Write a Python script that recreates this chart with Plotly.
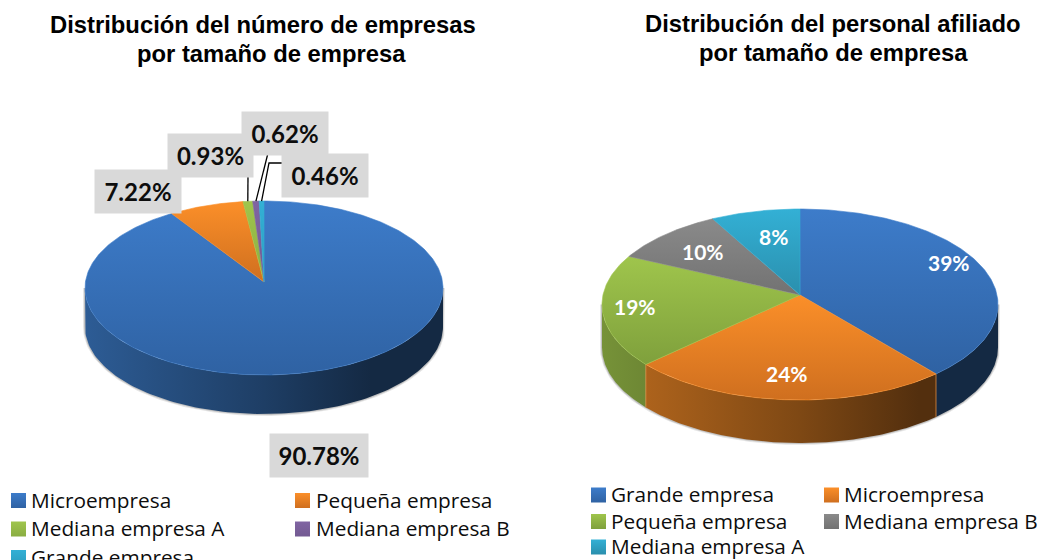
import numpy as np
import plotly.graph_objects as go

# ---- data ----
title_left_lines = ["Distribución del número de empresas", "por tamaño de empresa"]
title_right_lines = ["Distribución del personal afiliado", "por tamaño de empresa"]

left_names = ["Microempresa", "Pequeña empresa", "Mediana empresa A", "Mediana empresa B", "Grande empresa"]
left_values = [90.78, 7.22, 0.93, 0.62, 0.46]
left_labels = ["90.78%", "7.22%", "0.93%", "0.62%", "0.46%"]

right_names = ["Grande empresa", "Microempresa", "Pequeña empresa", "Mediana empresa B", "Mediana empresa A"]
right_values = [39, 24, 19, 10, 8]
right_labels = ["39%", "24%", "19%", "10%", "8%"]

# ---- styles ----
LEFT_COL = [("#3d7cca", "#2f62a3"), ("#fb8f29", "#cf6f1f"), ("#9fc54c", "#8aad42"),
            ("#8064a2", "#735a92"), ("#33b0d5", "#2c9dbf")]
RIGHT_COL = [("#3d7cca", "#2f62a3"), ("#fb8f29", "#cf6f1f"), ("#9fc54c", "#7fa03c"),
             ("#8a8a8a", "#727272"), ("#33b0d5", "#2a8fad")]
BODY = "Open Sans, Noto Sans, sans-serif"
LABEL = "Lato, Open Sans, sans-serif"
TITLE = "Liberation Sans, Arial, sans-serif"


def rgb(h):
    return np.array([int(h[i:i + 2], 16) for i in (1, 3, 5)], float)


def shade(h, f):
    r, g, b = rgb(h) * f
    return f"rgb({r:.0f},{g:.0f},{b:.0f})"


fig = go.Figure()


class Pie3D:
    def __init__(self, cx, cy, top, bottom, half_w, depth):
        self.cx, self.cy, self.depth = cx, cy, depth
        self.k = (bottom - top) / (bottom + top)
        self.A = top * (1 + self.k)
        self.B = half_w * np.sqrt(1 - self.k ** 2)
        self.half_w = half_w
        self.top, self.bottom = cy - top, cy + bottom

    def rim(self, t):
        X, Y = np.sin(t), np.cos(t)
        w = 1 + self.k * Y
        return self.cx + self.B * X / w, self.cy - self.A * Y / w

    def draw(self, values, cols):
        vals = np.array(values, float)
        edges = np.concatenate([[0], np.cumsum(vals) / vals.sum() * 2 * np.pi])
        tr = np.arccos(-self.k)  # right silhouette
        tl = 2 * np.pi - tr  # left silhouette
        x0, x1 = self.cx - self.half_w, self.cx + self.half_w
        # soft shadow along the lower rim
        t = np.linspace(tr, tl, 200)
        sx, sy = self.rim(t)
        for w, op in [(4, .10), (2, .16)]:
            fig.add_trace(go.Scatter(
                x=np.concatenate([sx[:1], sx, sx[-1:]]),
                y=np.concatenate([sy[:1], sy + self.depth, sy[-1:]]),
                mode="lines", line=dict(width=w, color=f"rgba(0,0,0,{op})"), hoverinfo="skip"))
        for i in range(len(vals)):
            a, b = max(edges[i], tr), min(edges[i + 1], tl)
            if b <= a:
                continue
            t = np.linspace(a, b, 120)
            x, y = self.rim(t)
            px = np.concatenate([x, x[::-1]])
            py = np.concatenate([y, y[::-1] + self.depth])
            base = cols[i][0]
            stops = [(0, .74), (.5, .5), (.8, .33), (1, .33)]
            fig.add_trace(go.Scatter(
                x=px, y=py, mode="lines", line=dict(width=0), fill="toself",
                fillgradient=dict(type="horizontal", start=x0, stop=x1,
                                  colorscale=[[s, shade(base, f)] for s, f in stops]),
                hoverinfo="skip"))
        # light vertical edges between the visible side walls
        for e in edges[1:-1]:
            if tr < e < tl:
                ex, ey = self.rim(e)
                fig.add_trace(go.Scatter(x=[ex, ex], y=[ey, ey + self.depth], mode="lines",
                                         line=dict(width=0.8, color="#e08a40"), hoverinfo="skip"))
        for i in range(len(vals)):
            t = np.linspace(edges[i], edges[i + 1], max(int(vals[i] * 4), 6))
            x, y = self.rim(t)
            px = np.concatenate([[self.cx], x, [self.cx]])
            py = np.concatenate([[self.cy], y, [self.cy]])
            fig.add_trace(go.Scatter(
                x=px, y=py, mode="lines", line=dict(width=0.6, color=cols[i][0]), fill="toself",
                fillgradient=dict(type="vertical", start=float(py.min()), stop=float(py.max()),
                                  colorscale=[[0, cols[i][0]], [1, cols[i][1]]]),
                hoverinfo="skip"))
        return edges


left_pie = Pie3D(264, 282, 81, 93, 179, 39)
left_edges = left_pie.draw(left_values, LEFT_COL)
right_pie = Pie3D(800, 295, 86, 105, 198, 43)
right_pie.draw(right_values, RIGHT_COL)

# leader lines of the small slices
mid = (left_edges[:-1] + left_edges[1:]) / 2
for i, (sx, sy) in {2: ([248], [176]), 3: ([268], [153]), 4: ([283, 269], [163, 163])}.items():
    rx, ry = left_pie.rim(mid[i])
    fig.add_trace(go.Scatter(x=sx + [float(rx)], y=sy + [float(ry)], mode="lines",
                             line=dict(color="#000000", width=1.3), hoverinfo="skip"))

# gray value labels (centre x, centre y, width)
left_pos = [(318.5, 455.5, 96), (138, 191.5, 84), (210.5, 155.5, 83), (285, 133.5, 84), (325, 175.5, 84)]
for i in [0, 1, 2, 3, 4]:
    x, y, w = left_pos[i]
    fig.add_annotation(x=x, y=y, text=f"<b>{left_labels[i]}</b>", showarrow=False, width=w, height=41,
                       bgcolor="#d9d9d9", font=dict(family=LABEL, size=24, color="#0d0d0d"),
                       xref="x", yref="y", align="center", valign="middle")

right_pos = [(949, 262), (787, 373), (635, 306), (703, 251), (773, 236)]
for lab, (x, y) in zip(right_labels, right_pos):
    fig.add_annotation(x=x, y=y, text=f"<b>{lab}</b>", showarrow=False,
                       font=dict(family=LABEL, size=21, color="#ffffff"), xref="x", yref="y")

# titles (each line is placed on its own)
title_slots = [(title_left_lines[0], 263, 24), (title_left_lines[1], 271, 53),
               (title_right_lines[0], 832.5, 23.5), (title_right_lines[1], 833, 52.5)]
for txt, x, y in title_slots:
    fig.add_annotation(x=x, y=y, text=f"<b>{txt}</b>", showarrow=False, align="center",
                       font=dict(family=TITLE, size=23.8, color="#000000"), xref="x", yref="y")

# legends
def legend(names, cols, slots):
    for name, col, (mx, my, tx) in zip(names, cols, slots):
        fig.add_trace(go.Scatter(x=[mx], y=[my], mode="markers", hoverinfo="skip",
                                 marker=dict(symbol="square", size=15, color=col[0],
                                             gradient=dict(type="vertical", color=col[1]),
                                             line=dict(width=0))))
        fig.add_annotation(x=tx - 2.5, y=my - 1, text=name, showarrow=False, xanchor="left",
                           font=dict(family=BODY, size=20.8, color="#0d0d0d"), xref="x", yref="y")


legend(left_names, LEFT_COL, [(18.5, 500.5, 31), (302.5, 500.5, 316), (18.5, 529, 31),
                              (302.5, 529, 316), (18.5, 557.5, 31)])
legend(right_names, RIGHT_COL, [(598.5, 495, 611), (831.5, 495, 844), (598.5, 521.5, 611),
                                (831.5, 521.5, 844), (598.5, 547, 611)])

fig.update_layout(
    width=1042, height=560, margin=dict(l=0, r=0, t=0, b=0), showlegend=False,
    paper_bgcolor="#ffffff", plot_bgcolor="#ffffff", hovermode=False,
    xaxis=dict(range=[0, 1042], visible=False, fixedrange=True),
    yaxis=dict(range=[560, 0], visible=False, fixedrange=True),
)
fig.write_html("out.html", post_script="document.body.style.margin='0';",
               config={"displayModeBar": False})
